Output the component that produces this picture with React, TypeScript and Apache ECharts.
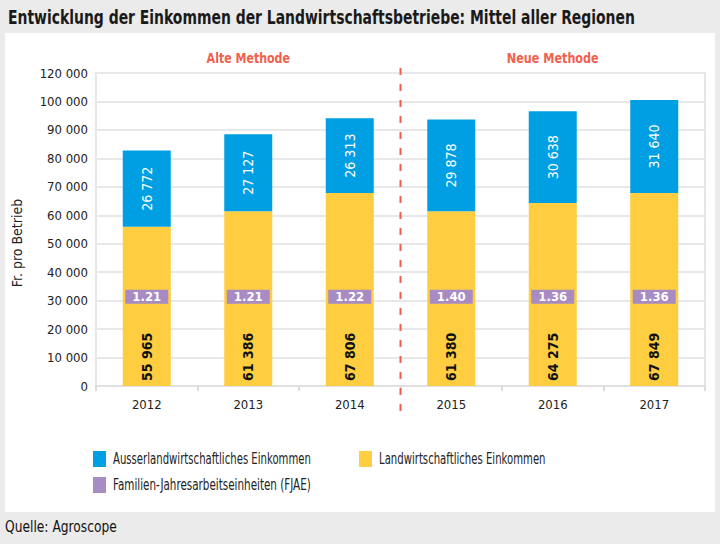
import React, { useEffect, useRef } from "react";
import * as echarts from "echarts";

const years = ["2012", "2013", "2014", "2015", "2016", "2017"];
// Landwirtschaftliches Einkommen (Fr. pro Betrieb)
const landwirtschaftlich = [55965, 61386, 67806, 61380, 64275, 67849];
// Ausserlandwirtschaftliches Einkommen: printed labels
const ausserLabels = [26772, 27127, 26313, 29878, 30638, 31640];
// Ausserlandwirtschaftliches Einkommen: segment heights as drawn in the picture
const ausserDrawn = [26772, 27127, 26313, 32300, 32300, 32700];
// Familien-Jahresarbeitseinheiten
const fjae = [1.21, 1.21, 1.22, 1.4, 1.36, 1.36];
const yTickLabels = ["0", "10 000", "20 000", "30 000", "40 000", "50 000", "60 000", "70 000", "80 000", "90 000", "100 000", "120 000"];
const legendNames = ["Ausserlandwirtschaftliches Einkommen", "Landwirtschaftliches Einkommen", "Familien-Jahresarbeitseinheiten (FJAE)"];

const FONT = "'DejaVu Sans Condensed', 'DejaVu Sans', sans-serif";
const BLUE = "#009fe3";
const YELLOW = "#fecd40";
const PURPLE = "#a78bc2";
const RED = "#f0604d";

const W = 720;
const H = 544;
const GRID_LEFT = 96;
const GRID_RIGHT = 705;
const GRID_TOP = 73;
const GRID_BOTTOM = 386;
const FJAE_Y = 31400;

const fmt = (v: number) => String(v).replace(/\B(?=(\d{3})+(?!\d))/g, " ");

export default function App() {
  const ref = useRef<HTMLDivElement>(null);
  useEffect(() => {
    if (!ref.current) return;
    const chart = echarts.init(ref.current, null, { renderer: "svg" });
    const colW = (GRID_RIGHT - GRID_LEFT) / years.length;
    const dividerX = GRID_LEFT + colW * 3;
    const legendItem = (name: string, color: string, x: number, y: number, sx: number) => [
      { type: "rect", shape: { x, y, width: 13, height: 16 }, style: { fill: color } },
      {
        type: "text",
        x: x + 20,
        y: y + 8,
        scaleX: sx,
        style: { text: name, font: `15px ${FONT}`, fill: "#222", align: "left", verticalAlign: "middle" },
      },
    ];
    chart.setOption({
      animation: false,
      backgroundColor: "#ebebeb",
      textStyle: { fontFamily: FONT },
      graphic: [
        { type: "rect", z: -10, shape: { x: 5, y: 33, width: 710, height: 479 }, style: { fill: "#ffffff" } },
        {
          type: "text",
          x: 8,
          y: 17,
          scaleX: 0.815,
          style: {
            text: "Entwicklung der Einkommen der Landwirtschaftsbetriebe: Mittel aller Regionen",
            font: `bold 19px ${FONT}`,
            fill: "#1a1a1a",
            align: "left",
            verticalAlign: "middle",
          },
        },
        {
          type: "text",
          x: GRID_LEFT + colW * 1.5,
          y: 58,
          scaleX: 0.875,
          style: { text: "Alte Methode", font: `bold 14px ${FONT}`, fill: RED, align: "center", verticalAlign: "middle" },
        },
        {
          type: "text",
          x: GRID_LEFT + colW * 4.5,
          y: 58,
          scaleX: 0.89,
          style: { text: "Neue Methode", font: `bold 14px ${FONT}`, fill: RED, align: "center", verticalAlign: "middle" },
        },
        {
          type: "line",
          z: 10,
          shape: { x1: dividerX, y1: 68, x2: dividerX, y2: 418 },
          style: { stroke: RED, lineWidth: 2, lineDash: [7, 9] },
        },
        {
          type: "text",
          x: 17,
          y: 243,
          rotation: Math.PI / 2,
          style: { text: "Fr. pro Betrieb", font: `14px ${FONT}`, fill: "#222", align: "center", verticalAlign: "middle" },
        },
        ...legendItem(legendNames[0], BLUE, 93, 451, 0.75),
        ...legendItem(legendNames[1], YELLOW, 359, 451, 0.75),
        ...legendItem(legendNames[2], PURPLE, 93, 477, 0.77),
        {
          type: "text",
          x: 5,
          y: 527,
          scaleX: 0.91,
          style: { text: "Quelle: Agroscope", font: `15px ${FONT}`, fill: "#111", align: "left", verticalAlign: "middle" },
        },
      ],
      grid: {
        left: GRID_LEFT,
        right: W - GRID_RIGHT,
        top: GRID_TOP,
        bottom: H - GRID_BOTTOM,
        show: true,
        borderColor: "#e6e6e6",
        borderWidth: 2,
        containLabel: false,
      },
      xAxis: {
        type: "category",
        data: years,
        axisLine: { lineStyle: { color: "#e0e0e0", width: 2 } },
        axisTick: { show: true, length: 5, lineStyle: { color: "#dcdcdc", width: 2 } },
        axisLabel: { fontSize: 13, color: "#222", margin: 12, fontFamily: FONT },
      },
      yAxis: {
        type: "value",
        min: 0,
        max: 110000,
        interval: 10000,
        axisLine: { show: false },
        axisTick: { show: false },
        splitLine: { lineStyle: { color: "#e8e8e8", width: 2 } },
        axisLabel: {
          fontSize: 13,
          color: "#222",
          margin: 8,
          fontFamily: FONT,
          formatter: (_v: number, i: number) => yTickLabels[i] ?? "",
        },
      },
      series: [
        {
          name: legendNames[1],
          type: "bar",
          stack: "total",
          barWidth: 48,
          data: landwirtschaftlich,
          itemStyle: { color: YELLOW },
          label: {
            show: true,
            position: "insideBottom",
            distance: 5,
            rotate: 90,
            align: "left",
            verticalAlign: "middle",
            fontSize: 14,
            fontWeight: "bold",
            color: "#111",
            fontFamily: FONT,
            formatter: (p: any) => fmt(p.value),
          },
        },
        {
          name: legendNames[0],
          type: "bar",
          stack: "total",
          barWidth: 48,
          data: ausserDrawn,
          itemStyle: { color: BLUE },
          label: {
            show: true,
            position: "inside",
            rotate: 90,
            fontSize: 14,
            color: "#fff",
            fontFamily: FONT,
            formatter: (p: any) => fmt(ausserLabels[p.dataIndex]),
          },
        },
        {
          name: legendNames[2],
          type: "scatter",
          symbol: "rect",
          symbolSize: [43, 14],
          z: 5,
          data: fjae.map((v, i) => [years[i], FJAE_Y, v]),
          itemStyle: { color: PURPLE, opacity: 1 },
          label: {
            show: true,
            position: "inside",
            fontSize: 13,
            color: "#fff",
            fontWeight: "bold",
            fontFamily: FONT,
            formatter: (p: any) => (p.value[2] as number).toFixed(2),
          },
        },
      ],
    });
    return () => chart.dispose();
  }, []);
  return <div ref={ref} style={{ position: "fixed", left: 0, top: 0, width: W, height: H }} />;
}
